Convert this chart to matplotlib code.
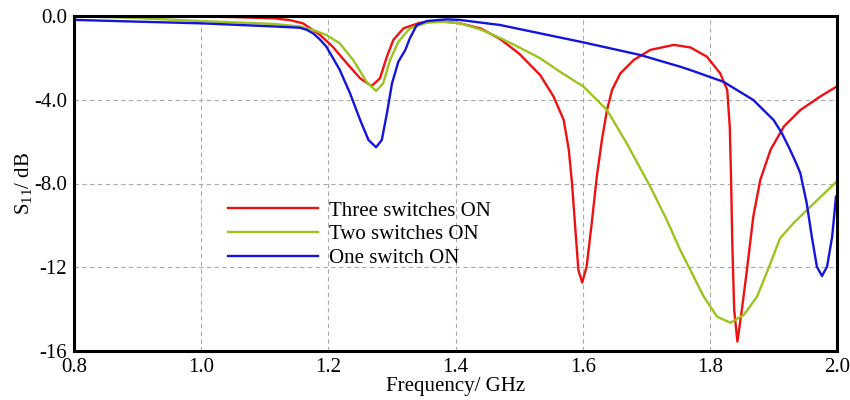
import matplotlib
matplotlib.use('Agg')
import matplotlib.pyplot as plt

plt.rcParams['font.family'] = ['Liberation Serif', 'DejaVu Serif']
plt.rcParams['mathtext.fontset'] = 'custom'
plt.rcParams['mathtext.rm'] = 'Liberation Serif'
plt.rcParams['mathtext.it'] = 'Liberation Serif:italic'
plt.rcParams['axes.unicode_minus'] = False

# Three switches ON
freq_three = [0.80, 0.85, 0.95, 1.05, 1.115, 1.14, 1.16, 1.187, 1.207, 1.229, 1.25, 1.268,
              1.281, 1.292, 1.302, 1.318, 1.344, 1.376, 1.407, 1.44, 1.47, 1.50, 1.533,
              1.554, 1.570, 1.578, 1.583, 1.588, 1.593, 1.599, 1.606, 1.614, 1.622, 1.63,
              1.638, 1.646, 1.659, 1.68, 1.706, 1.743, 1.769, 1.795, 1.816, 1.827, 1.831,
              1.833, 1.835, 1.838, 1.843, 1.85, 1.858, 1.868, 1.879, 1.895, 1.916, 1.942,
              1.973, 1.999]
s11_three = [0.0, 0.0, -0.01, -0.05, -0.11, -0.2, -0.35, -0.91, -1.47, -2.26, -2.98, -3.34,
             -2.98, -1.94, -1.15, -0.59, -0.32, -0.24, -0.35, -0.6, -1.1, -1.8, -2.82,
             -3.85, -4.97, -6.4, -7.99, -10.06, -12.13, -12.73, -11.97, -9.9, -7.67, -5.92,
             -4.49, -3.53, -2.74, -2.1, -1.62, -1.38, -1.5, -1.94, -2.74, -3.53, -5.28,
             -7.67, -10.86, -14.04, -15.55, -14.04, -12.13, -9.58, -7.83, -6.4, -5.28, -4.49,
             -3.85, -3.37]

# Two switches ON
freq_two = [0.80, 0.90, 0.999, 1.115, 1.155, 1.177, 1.197, 1.218, 1.239, 1.26, 1.275, 1.286,
            1.297, 1.31, 1.328, 1.355, 1.38, 1.407, 1.44, 1.47, 1.50, 1.533, 1.564, 1.601,
            1.638, 1.669, 1.706, 1.732, 1.753, 1.769, 1.79, 1.811, 1.832, 1.853, 1.874,
            1.895, 1.91, 1.931, 1.958, 1.999]
s11_two = [0.0, -0.1, -0.24, -0.38, -0.5, -0.68, -0.91, -1.31, -2.1, -3.14, -3.58, -3.22,
           -2.1, -1.23, -0.59, -0.32, -0.28, -0.35, -0.65, -1.05, -1.5, -2.02, -2.66, -3.37,
           -4.49, -6.08, -8.15, -9.74, -11.17, -12.13, -13.4, -14.36, -14.65, -14.28, -13.4,
           -11.81, -10.62, -9.9, -9.1, -7.91]

# One switch ON
freq_one = [0.805, 0.90, 1.00, 1.115, 1.155, 1.166, 1.176, 1.186, 1.197, 1.218, 1.234, 1.25,
            1.263, 1.275, 1.284, 1.292, 1.30, 1.31, 1.321, 1.328, 1.339, 1.355, 1.386, 1.407,
            1.47, 1.533, 1.601, 1.69, 1.753, 1.769, 1.821, 1.868, 1.90, 1.913, 1.926, 1.935,
            1.942, 1.952, 1.96, 1.968, 1.976, 1.984, 1.992, 1.998]
s11_one = [-0.19, -0.27, -0.35, -0.5, -0.56, -0.66, -0.83, -1.1, -1.47, -2.58, -3.69, -4.97,
           -5.92, -6.27, -5.92, -4.65, -3.22, -2.18, -1.62, -1.07, -0.43, -0.24, -0.16, -0.19,
           -0.43, -0.83, -1.26, -1.86, -2.42, -2.58, -3.14, -4.01, -4.97, -5.6, -6.4, -7.0,
           -7.51, -8.94, -10.54, -11.97, -12.42, -11.97, -10.54, -8.63]

x_ticks = [0.8, 1.0, 1.2, 1.4, 1.6, 1.8, 2.0]
x_labels = ['0.8', '1.0', '1.2', '1.4', '1.6', '1.8', '2.0']
y_ticks = [0, -4, -8, -12, -16]
y_labels = ['0.0', '-4.0', '-8.0', '-12', '-16']

fig = plt.figure(figsize=(8.5, 4), dpi=100)
ax = fig.add_axes([0.087, 0.1225, 0.898, 0.8375])

ax.plot(freq_three, s11_three, color='#ee1111', lw=1.7, label='Three switches ON')
ax.plot(freq_two, s11_two, color='#9cc41e', lw=1.7, label='Two switches ON')
ax.plot(freq_one, s11_one, color='#1414dc', lw=1.7, label='One switch ON')

ax.set_xlim(0.8, 2.0)
ax.set_ylim(-16, 0)
ax.set_xticks(x_ticks)
ax.set_xticklabels(x_labels)
ax.set_yticks(y_ticks)
ax.set_yticklabels(y_labels)
ax.tick_params(length=0, labelsize=15, pad=5)

ax.grid(True, color='#aaaaaa', linestyle=(0, (4, 3)), lw=0.8)
for s in ax.spines.values():
    s.set_linewidth(2.2)
    s.set_color('black')

ax.set_xlabel('Frequency/ GHz', fontsize=15, labelpad=0)
ax.set_ylabel('S$_{11}$/ dB', fontsize=15, labelpad=0)

ax.legend(loc='upper left', bbox_to_anchor=(0.202, 0.448), frameon=False, fontsize=15,
          handlelength=4.3, handletextpad=0.55, labelspacing=0.2, borderpad=0,
          borderaxespad=0)

plt.savefig('out.png', dpi=100)
